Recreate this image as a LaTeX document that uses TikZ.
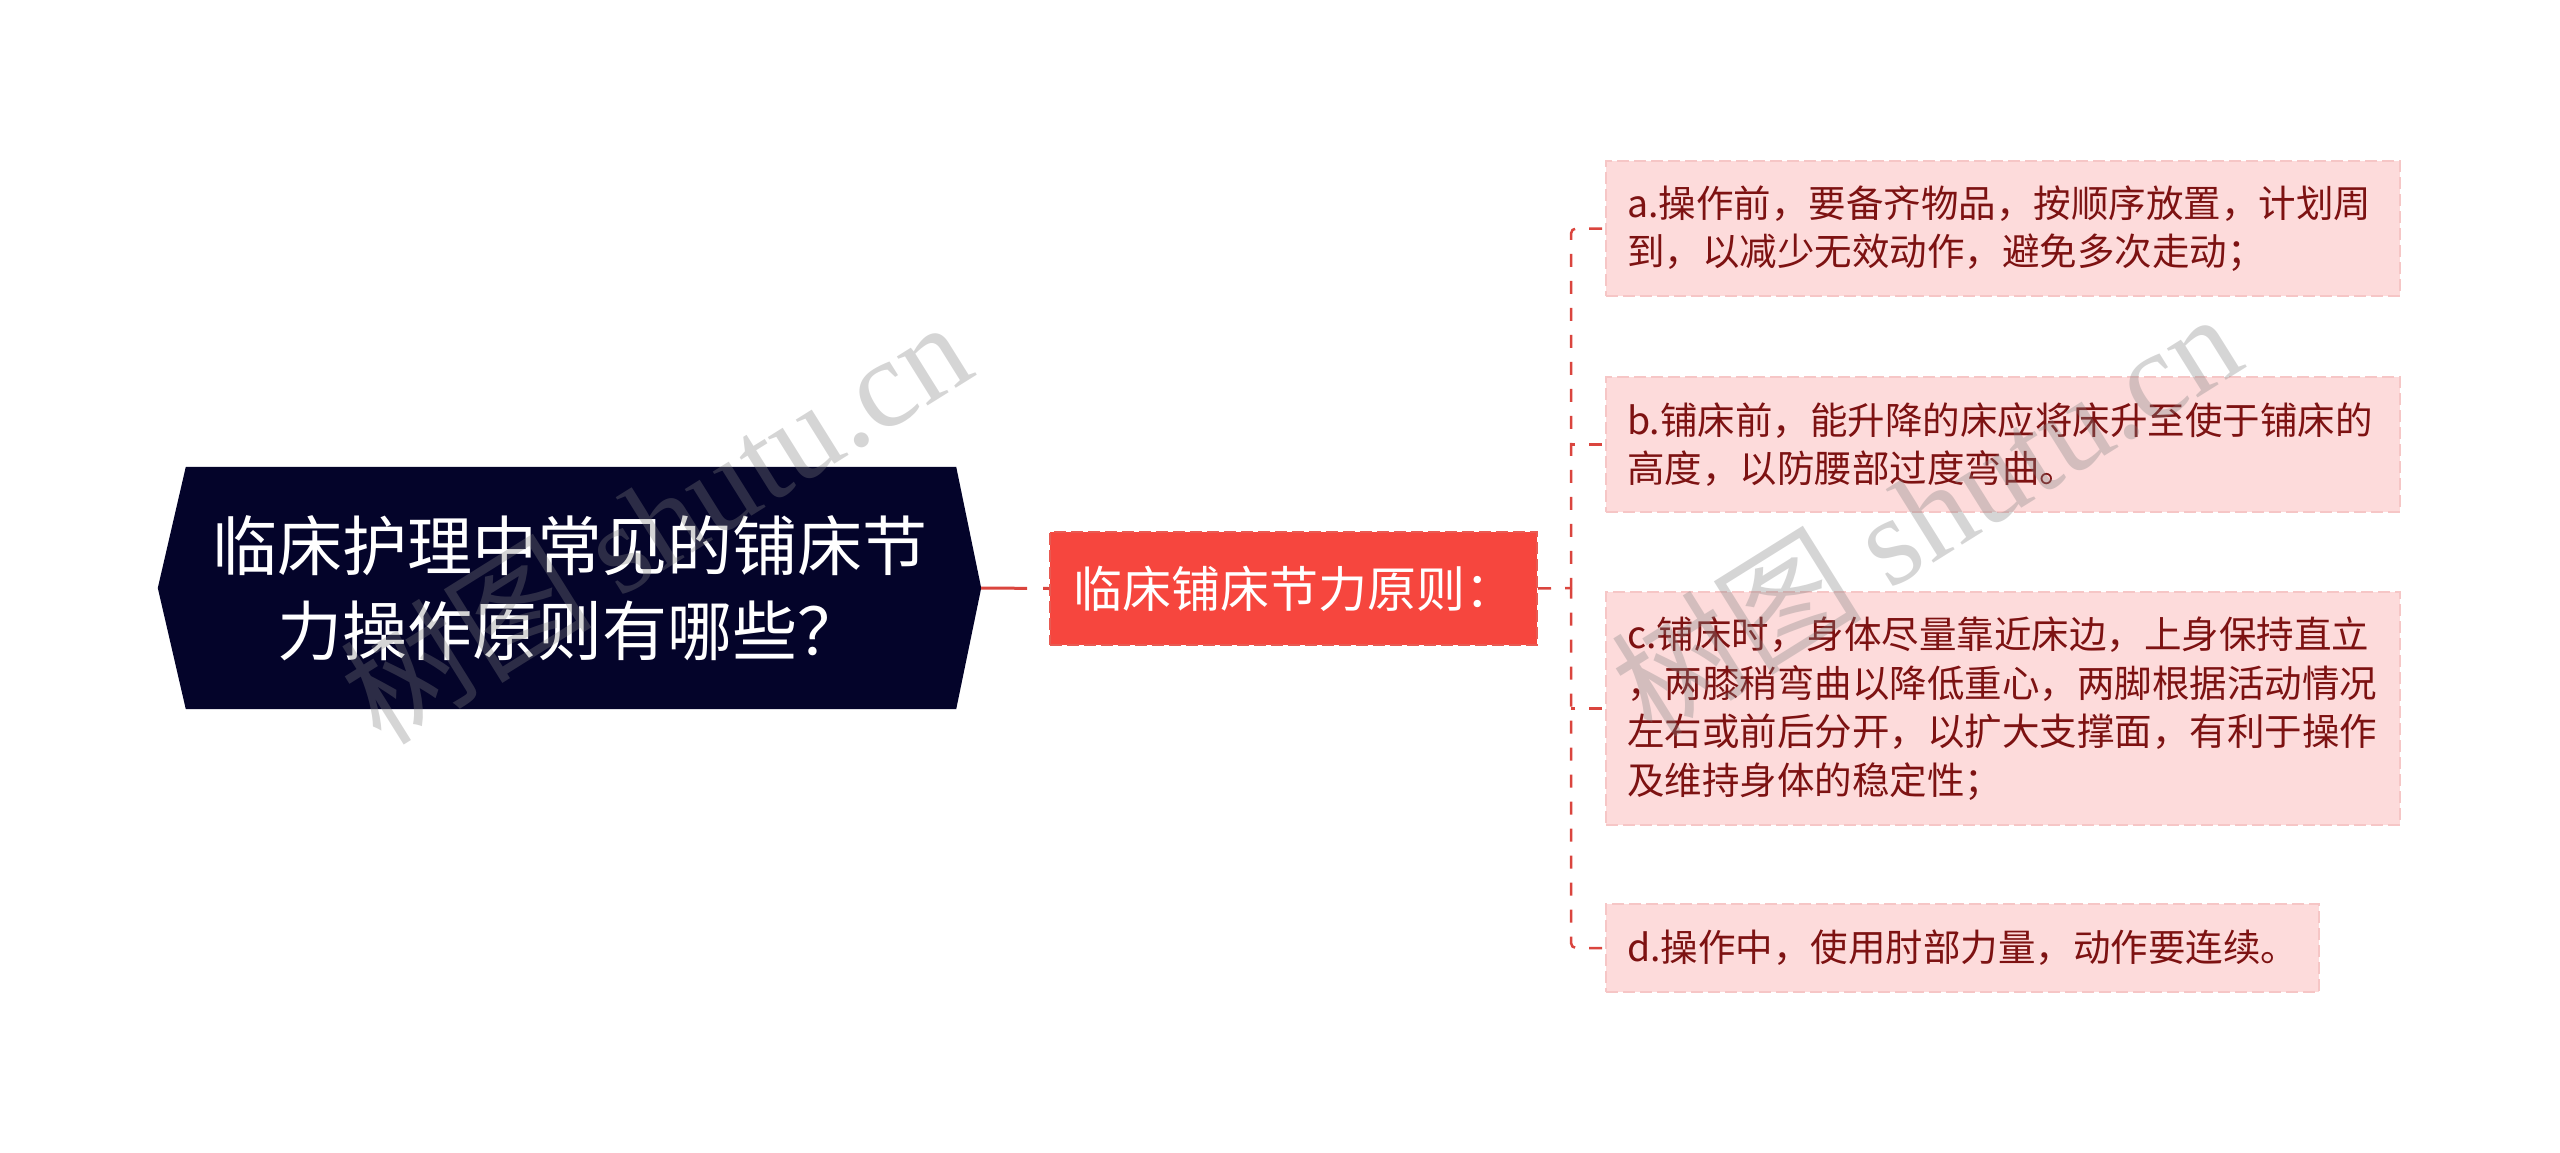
\documentclass[tikz,border=0pt]{standalone}
\usepackage{fontspec}
\setmainfont{Noto Sans CJK SC}
\newfontfamily\wmfont{Liberation Serif}
\usetikzlibrary{backgrounds,calc}
\definecolor{rootfill}{HTML}{04042A}
\definecolor{midfill}{HTML}{F6463E}
\definecolor{midborder}{HTML}{E85A52}
\definecolor{leaffill}{HTML}{FDDBDB}
\definecolor{leafborder}{HTML}{F6C6C6}
\definecolor{leaftext}{HTML}{7D1212}
\definecolor{linkred}{HTML}{DA453E}
\begin{document}
\begin{tikzpicture}[x=1pt,y=-1pt,
  rootbox/.style={minimum width=823pt, minimum height=242pt, inner sep=0pt, text=white, align=center, font=\fontsize{65}{85}\selectfont},
  midbox/.style={fill=midfill, draw=midborder, dash pattern=on 12pt off 5pt, line width=2pt, minimum width=487pt, minimum height=113pt, inner sep=0pt, text=white, font=\fontsize{49}{60}\selectfont},
  leafbox/.style={fill=leaffill, draw=leafborder, dash pattern=on 12pt off 5pt, line width=2pt, anchor=west, inner xsep=21pt, inner ysep=0pt, text=leaftext, align=left, font=\fontsize{37.5}{48.5}\selectfont},
  rootlink/.style={draw=linkred, line width=3pt, dash pattern=on 46pt off 16pt},
  conn/.style={draw=linkred, line width=2.5pt, dash pattern=on 13pt off 14pt},
  wm/.style={text=gray, opacity=0.33, rotate=32, font=\fontsize{126}{130}\selectfont}
]
\useasboundingbox (0,0) rectangle (2560,1153);

\node[rootbox] (root) at (569.5,588) {临床护理中常见的铺床节\\力操作原则有哪些？};
\begin{scope}[on background layer]
\fill[rootfill] (root.west) -- ([xshift=28pt]root.north west) -- ([xshift=-25pt]root.north east) -- (root.east) -- ([xshift=-25pt]root.south east) -- ([xshift=28pt]root.south west) -- cycle;
\end{scope}

\node[midbox] (mid) at (1293.5,588.5) {临床铺床节力原则：};

\node[leafbox, text width=752pt, minimum height=135pt] (a) at (1605,228.5) {a.操作前，要备齐物品，按顺序放置，计划周\\到，以减少无效动作，避免多次走动；};
\node[leafbox, text width=752pt, minimum height=135pt] (b) at (1605,444.5) {b.铺床前，能升降的床应将床升至使于铺床的\\高度，以防腰部过度弯曲。};
\node[leafbox, text width=752pt, minimum height=233pt] (c) at (1605,708.5) {c.铺床时，身体尽量靠近床边，上身保持直立\\，两膝稍弯曲以降低重心，两脚根据活动情况\\左右或前后分开，以扩大支撑面，有利于操作\\及维持身体的稳定性；};
\node[leafbox, minimum height=88pt] (d) at (1605,948) {d.操作中，使用肘部力量，动作要连续。};

\coordinate (trunk) at (1571,588);
\draw[rootlink] (root.east) -- (mid.west);
\draw[conn] (mid.east) -- (trunk);
\draw[conn, rounded corners=5pt] ([xshift=-3pt]a.west) -| (trunk);
\draw[conn, rounded corners=5pt] ([xshift=-3pt]d.west) -| (trunk);
\draw[conn] ([xshift=-3pt]b.west) -- (b.west -| trunk);
\draw[conn] ([xshift=-3pt]c.west) -- (c.west -| trunk);

\node[wm] (wm1) at (655,520) {树图 {\wmfont shutu.cn}};
\node[wm] (wm2) at (1925,512) {树图 {\wmfont shutu.cn}};
\end{tikzpicture}
\end{document}
